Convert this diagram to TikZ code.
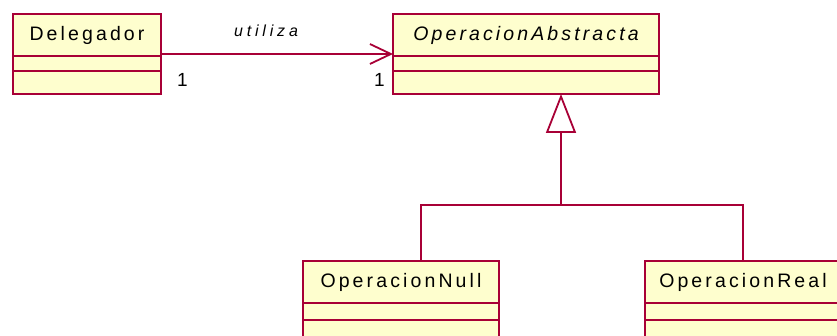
\documentclass[tikz,border=0pt]{standalone}
\usepackage{fontspec}
\setmainfont{Liberation Sans}
\newfontfamily\umlfont[LetterSpace=16]{Liberation Sans}
\newfontfamily\assocfont[LetterSpace=24]{Liberation Sans}
\usetikzlibrary{positioning,arrows.meta}
\definecolor{umlborder}{HTML}{A80036}
\definecolor{umlfill}{HTML}{FEFECE}
\tikzset{
  classbox/.style={draw=umlborder,fill=umlfill,line width=2pt,outer sep=0pt,inner sep=0pt,
    minimum height=42pt,font=\umlfont\fontsize{19.5}{22}\selectfont},
  attrbox/.style={draw=umlborder,fill=umlfill,line width=2pt,outer sep=0pt,inner sep=0pt},
  uses/.style={draw=umlborder,line width=1.8pt,-{Straight Barb[length=21pt,width=20pt,line width=1.8pt]}},
  extends/.style={draw=umlborder,line width=1.8pt,-{Triangle[open,length=39pt,width=30pt,line width=1.8pt]}},
  link/.style={draw=umlborder,line width=1.8pt},
  assoclabel/.style={font=\assocfont\itshape\fontsize{16}{18}\selectfont},
  mult/.style={font=\fontsize{19}{22}\selectfont}
}
\begin{document}
\begin{tikzpicture}[x=1pt,y=-1pt]
    \useasboundingbox (0,0) rectangle (837,336);
    % clases de arriba
    \node[classbox,minimum width=148pt] (del) at (87,35) {Delegador};
    \node[attrbox,minimum width=148pt,minimum height=15.5pt,below=0pt of del] (del-attr) {};
    \node[attrbox,minimum width=148pt,minimum height=22.5pt,below=0pt of del-attr] (del-ops) {};
    \node[classbox,minimum width=266pt] (abs) at (526,35) {\itshape OperacionAbstracta};
    \node[attrbox,minimum width=266pt,minimum height=15.5pt,below=0pt of abs] (abs-attr) {};
    \node[attrbox,minimum width=266pt,minimum height=22.5pt,below=0pt of abs-attr] (abs-ops) {};
    % clases de abajo
    \node[classbox,minimum width=196pt] (null) at (401,282.5) {OperacionNull};
    \node[attrbox,minimum width=196pt,minimum height=16.5pt,below=0pt of null] (null-attr) {};
    \node[attrbox,minimum width=196pt,minimum height=22.5pt,below=0pt of null-attr] (null-ops) {};
    \node[classbox,minimum width=196pt] (real) at (743,282.5) {OperacionReal};
    \node[attrbox,minimum width=196pt,minimum height=16.5pt,below=0pt of real] (real-attr) {};
    \node[attrbox,minimum width=196pt,minimum height=22.5pt,below=0pt of real-attr] (real-ops) {};
    % asociacion
    \draw[uses] ([yshift=2pt]del.south east) --
        node[assoclabel,midway,above=13pt,xshift=-11pt] {utiliza}
        node[mult,pos=0,below right=15pt and 12pt] {1}
        node[mult,pos=1,below left=15pt and 4pt] {1}
        ([yshift=2pt]abs.south west);
    % herencia
    \coordinate (fork) at (561,205);
    \draw[extends] (fork) -- (abs-ops.south -| fork);
    \draw[link] ([xshift=20pt]null.north) |- (fork) -| (real.north);
\end{tikzpicture}
\end{document}
